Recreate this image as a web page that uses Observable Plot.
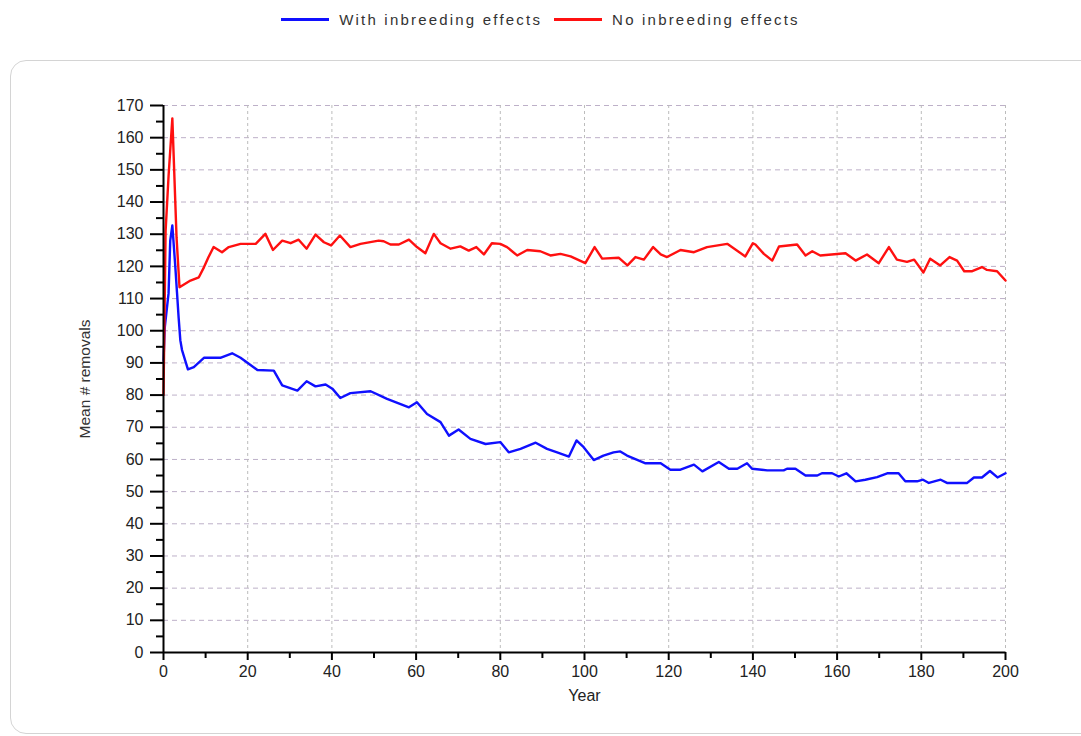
<!DOCTYPE html>
<html>
<head>
<meta charset="utf-8">
<script src="https://cdn.jsdelivr.net/npm/d3@7"></script>
<script src="https://cdn.jsdelivr.net/npm/@observablehq/plot@0.6"></script>
<style>
  body { margin:0; background:#fff; width:1081px; height:736px; overflow:hidden; position:relative;
         font-family:"Liberation Sans", Arial, sans-serif; }
  #legend { position:absolute; top:0; left:0; width:1081px; height:38px; display:flex;
            justify-content:center; align-items:center; font-size:15px; letter-spacing:2.2px; color:#333; }
  .item { display:flex; align-items:center; margin:0 6px; }
  .sw { display:inline-block; width:48px; height:3px; margin-right:10px; }
  #frame { position:absolute; left:10px; top:60px; width:1100px; height:672px;
           border:1.5px solid #d4d4d4; border-radius:16px; }
  #chart { position:absolute; left:0; top:60px; }
</style>
</head>
<body>
<div id="legend"></div>
<div id="frame"></div>
<div id="chart"></div>
<script>
// ---- data ----
const seriesNames = ["With inbreeding effects", "No inbreeding effects"];
const seriesColors = ["#1010ff", "#ff1010"];

const yearsWith = [0, 0.3, 1.2, 1.6, 2.1, 2.8, 3.2, 3.6, 4.0, 4.4, 5.8, 7.2, 9.6, 13.5, 16.3, 18.3, 22.3, 26.2, 28.2, 31.8,
  34, 36.1, 38.5, 40.1, 42, 44.4, 49.2, 53.1, 58.3, 60.2, 62.6, 65.8, 67.8, 70.1, 72.9, 76.5, 80, 82, 84.8, 88.4,
  91.1, 93.5, 96.3, 98.1, 99.8, 102.2, 104.5, 106.9, 108.5, 110.1, 114.5, 118.1, 120.4, 122.8, 126, 128, 131.9, 134.3, 136.3, 138.6,
  139.8, 143.4, 147.3, 148.1, 150.1, 152.5, 155.3, 156.4, 158.8, 160.4, 162.2, 164.4, 166.7, 169.5, 171.9, 174.6, 176.2, 179, 180.4, 181.8,
  184.6, 186.1, 190.9, 192.5, 194.4, 196.3, 198.1, 200];
const valuesWith = [90.7, 101, 111.6, 128, 132.7, 120, 112, 104, 97, 94, 88, 88.7, 91.6, 91.6, 93.0, 91.6, 87.8, 87.6, 83, 81.4,
  84.3, 82.7, 83.3, 82, 79.1, 80.6, 81.2, 78.8, 76.2, 77.8, 74.1, 71.6, 67.4, 69.3, 66.4, 64.8, 65.4, 62.2, 63.3, 65.2,
  63.3, 62.2, 60.9, 65.9, 63.8, 59.8, 61.2, 62.2, 62.5, 61.2, 58.8, 58.8, 56.8, 56.8, 58.4, 56.3, 59.2, 57.1, 57.1, 58.8,
  57.1, 56.6, 56.6, 57.1, 57.1, 55, 55, 55.7, 55.7, 54.7, 55.7, 53.2, 53.7, 54.5, 55.7, 55.7, 53.2, 53.2, 53.7, 52.7,
  53.7, 52.7, 52.7, 54.4, 54.4, 56.4, 54.4, 55.7];

const yearsNo = [0, 0.5, 1.2, 2.1, 3.1, 3.8, 6.4, 8.4, 9.6, 10.7, 11.9, 13.9, 15.5, 18.3, 21.9, 24.2, 26, 28.2, 30.2, 32.1,
  34, 36.1, 38.1, 39.8, 41.9, 44.4, 46.8, 51.1, 52.3, 53.9, 55.9, 58.3, 60.2, 62.2, 64.2, 65.8, 68.2, 70.5, 72.5, 74.3,
  76.1, 78, 80, 81.6, 84, 86.4, 89.5, 91.9, 94.3, 96.7, 100.2, 102.4, 104.2, 108.1, 110.2, 112.1, 114.1, 116.3, 118.1, 119.6,
  122.8, 126, 129.1, 133.9, 138.2, 140, 140.6, 142.6, 144.6, 146.2, 150.5, 152.5, 154.1, 156, 162, 164.4, 167.1, 169.9, 172.3, 174.2,
  176.6, 178.3, 180.5, 182.1, 184.5, 186.7, 188.5, 190.2, 192.1, 194.4, 195.6, 198, 200];
const valuesNo = [80, 131, 148, 166, 129, 113.5, 115.6, 116.6, 119.7, 122.9, 126, 124.4, 126, 127, 127, 130.1, 125.1, 128, 127.2, 128.3,
  125.5, 129.9, 127.5, 126.5, 129.6, 126, 127, 128, 127.8, 126.8, 126.8, 128.3, 126, 124.1, 130.1, 127.2, 125.5, 126.2, 124.9, 126,
  123.7, 127.2, 127, 126, 123.4, 125.1, 124.7, 123.4, 123.9, 123.1, 121, 126, 122.4, 122.7, 120.3, 122.9, 122.1, 126, 123.7, 122.9,
  125.1, 124.4, 126, 127, 123.1, 127.2, 126.8, 123.9, 121.8, 126.2, 126.8, 123.4, 124.7, 123.4, 124.1, 121.8, 123.7, 121, 126, 122.1,
  121.4, 122.1, 118.1, 122.4, 120.3, 122.9, 121.8, 118.5, 118.5, 119.8, 118.9, 118.5, 115.6];

const xTicksMajor = [0, 20, 40, 60, 80, 100, 120, 140, 160, 180, 200];
const xTicksMinor = [10, 30, 50, 70, 90, 110, 130, 150, 170, 190];
const yTicksMajor = [0, 10, 20, 30, 40, 50, 60, 70, 80, 90, 100, 110, 120, 130, 140, 150, 160, 170];
const yTicksMinor = [5, 15, 25, 35, 45, 55, 65, 75, 85, 95, 105, 115, 125, 135, 145, 155, 165];
const xLabel = "Year";
const yLabel = "Mean # removals";

// ---- legend ----
const legend = document.getElementById("legend");
seriesNames.forEach((n, i) => {
  const it = document.createElement("div"); it.className = "item";
  const sw = document.createElement("span"); sw.className = "sw"; sw.style.background = seriesColors[i];
  const tx = document.createElement("span"); tx.textContent = n;
  it.appendChild(sw); it.appendChild(tx); legend.appendChild(it);
});

// ---- table ----
const rows = [
  ...yearsWith.map((x, i) => ({year: x, value: valuesWith[i], series: seriesNames[0]})),
  ...yearsNo.map((x, i) => ({year: x, value: valuesNo[i], series: seriesNames[1]}))
];

const chart = Plot.plot({
  width: 1081, height: 676,
  marginTop: 45, marginBottom: 84, marginLeft: 163, marginRight: 76,
  style: {fontFamily: "Liberation Sans, Arial, sans-serif", fontSize: "16px", color: "#222", background: "transparent"},
  x: {domain: [0, 200]},
  y: {domain: [0, 170]},
  color: {domain: seriesNames, range: seriesColors},
  marks: [
    Plot.gridY(yTicksMajor.filter(d => d > 0), {stroke: "#bdb0c8", strokeOpacity: 1, strokeDasharray: "5,4"}),
    Plot.gridX(xTicksMajor.filter(d => d > 0), {stroke: "#bcbcbc", strokeOpacity: 1, strokeDasharray: "3,3"}),
    Plot.line(rows, {x: "year", y: "value", z: "series", stroke: "series", strokeWidth: 2.4}),
    Plot.axisY(yTicksMajor, {tickSize: 13, tickPadding: 7, stroke: "#000", strokeWidth: 2, label: null, fontSize: 16}),
    Plot.axisY(yTicksMinor, {tickSize: 7, text: null, stroke: "#000", strokeWidth: 2, label: null}),
    Plot.axisX(xTicksMajor, {tickSize: 8, tickPadding: 5, stroke: "#000", strokeWidth: 2, label: null, fontSize: 16}),
    Plot.axisX(xTicksMinor, {tickSize: 6, text: null, stroke: "#000", strokeWidth: 2, label: null}),
    Plot.ruleX([0], {stroke: "#000", strokeWidth: 2}),
    Plot.ruleY([0], {stroke: "#000", strokeWidth: 2}),
    Plot.text([yLabel], {frameAnchor: "left", dx: -78, rotate: -90, textAnchor: "middle", lineAnchor: "middle", fontSize: 15.5, fill: "#333"}),
    Plot.text([xLabel], {frameAnchor: "bottom", dy: 43, textAnchor: "middle", lineAnchor: "middle", fontSize: 16, fill: "#222"})
  ]
});
document.getElementById("chart").appendChild(chart);
</script>
</body>
</html>
